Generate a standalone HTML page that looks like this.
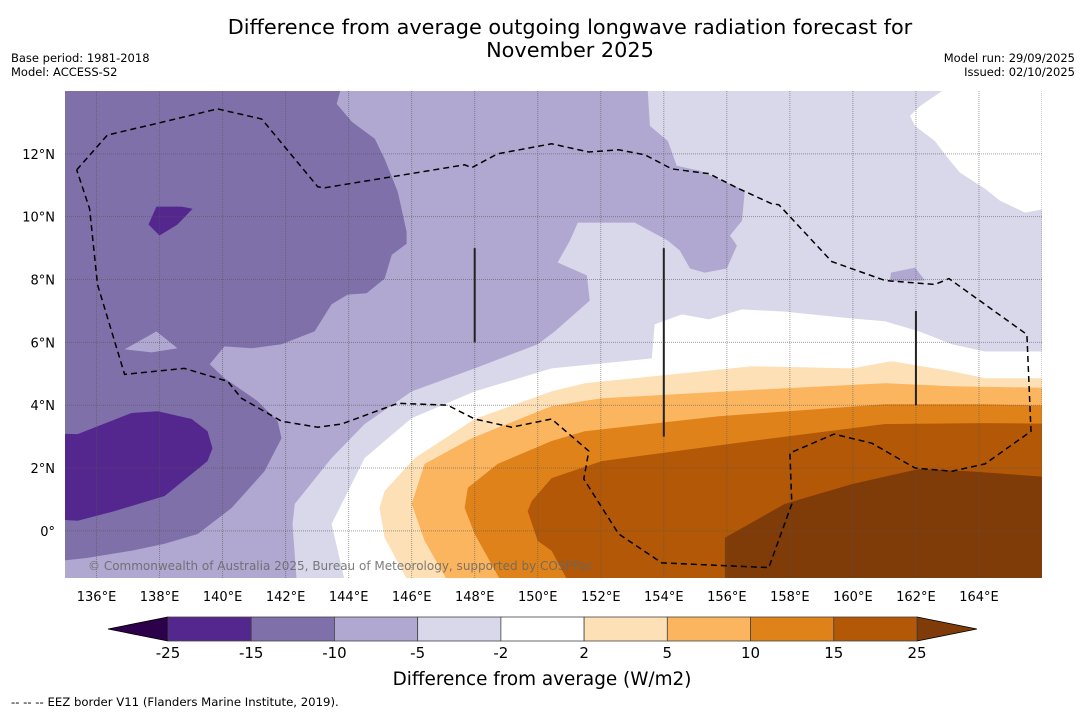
<!DOCTYPE html>
<html><head><meta charset="utf-8"><style>
body{margin:0;background:#fff;width:1085px;height:713px;overflow:hidden;font-family:"DejaVu Sans","Liberation Sans",sans-serif;}
svg text{font-family:"DejaVu Sans","Liberation Sans",sans-serif;}
</style></head><body>
<svg id="chart" width="1085" height="713" viewBox="0 0 1085 713" xmlns="http://www.w3.org/2000/svg">
<text x="570" y="34" font-size="20.8" text-anchor="middle">Difference from average outgoing longwave radiation forecast for</text>
<text x="570" y="57" font-size="20.8" text-anchor="middle">November 2025</text>
<text x="11" y="62" font-size="11.5">Base period: 1981-2018</text>
<text x="11" y="76" font-size="11.5">Model: ACCESS-S2</text>
<text x="1075" y="62" font-size="11.5" text-anchor="end">Model run: 29/09/2025</text>
<text x="1075" y="76" font-size="11.5" text-anchor="end">Issued: 02/10/2025</text>
<defs><clipPath id="mapclip"><rect x="65" y="91" width="977" height="487"/></clipPath></defs>
<g id="map" clip-path="url(#mapclip)"></g>
<g id="axes"></g>
<g id="cbar"></g>
<text x="542" y="685" font-size="18.4" text-anchor="middle">Difference from average (W/m2)</text>
<text x="11" y="706" font-size="11.7">--  --  -- EEZ border V11 (Flanders Marine Institute, 2019).</text>
</svg>
<script>
const lonRange=[135,166];
const latRange=[-1.5,14];
const lonTicks=[136,138,140,142,144,146,148,150,152,154,156,158,160,162,164];
const latTicks=[0,2,4,6,8,10,12];
const levels=[-25,-15,-10,-5,-2,2,5,10,15,25];
const levelColors=["#54278f","#7f70aa","#b0a8d0","#d8d8ea","#ffffff","#fee0b6","#fbb55f","#e0821a","#b35806"];
const underColor="#2d004b", overColor="#7f3b08";
const regMedium=[[134,14.5],[153.46,14.5],[153.56,12.89],[154.13,12.41],[154.41,11.62],[155.14,11.46],[156.57,10.83],[156.48,9.87],[156.1,9.4],[156.32,9.08],[156.0,8.35],[155.3,8.22],[154.83,8.35],[154.51,8.92],[154.13,9.24],[153.08,9.81],[151.27,9.81],[151.02,9.24],[150.63,8.54],[151.56,8.13],[151.65,7.33],[150.54,6.35],[150.0,5.94],[148,5.17],[146,4.44],[144.51,3.4],[143.46,2.32],[142.29,0.86],[142.22,0.22],[142.38,-2],[134,-2]];
const regWhiteNE=[[163.56,14.5],[167,14.5],[167,10.41],[165.46,10.13],[164.67,10.51],[164.19,10.89],[163.4,11.4],[163.08,11.78],[162.6,12.41],[161.97,12.89],[161.81,13.21],[162.13,13.52]];
const regMediumBlob=[[161.21,8.22],[161.97,8.38],[162.29,7.97],[161.17,7.94]];
const regWhite=[[167,5.71],[164.19,5.71],[163.14,5.94],[162.1,6.35],[161.02,6.67],[159.97,6.76],[157.84,6.98],[156.48,7.05],[155.43,6.73],[154.57,6.89],[153.71,6.57],[153.62,5.49],[150.44,5.17],[148,4.44],[146,3.59],[144.51,2.32],[143.46,0.22],[143.97,-2],[167,-2]];
const regC2=[[167,4.86],[164.19,4.86],[163.14,5.08],[161.24,5.4],[159.97,5.17],[156.79,5.24],[151.49,4.7],[150.44,4.44],[148,3.56],[146.1,2.32],[145.14,1.27],[144.98,0.73],[145.14,-0.22],[146.1,-2],[167,-2]];
const regC5=[[167,4.54],[163.14,4.6],[161.02,4.7],[157.84,4.54],[152.03,4.22],[150.44,3.97],[147.9,2.95],[146.41,2.13],[146,0.86],[146.41,-0.32],[147.37,-2],[167,-2]];
const regC10=[[167,3.97],[164.19,4.03],[161.02,4.03],[155.75,3.65],[151.49,3.17],[150.44,2.86],[148.73,2.13],[147.78,1.37],[147.68,0.73],[148,-0.1],[149.05,-2],[167,-2]];
const regC15=[[167,3.4],[164.19,3.43],[161.02,3.4],[156.79,2.86],[152.03,2.22],[150.44,1.68],[149.81,0.95],[149.68,0.63],[150.0,-0.32],[150.44,-0.63],[151.17,-2],[167,-2]];
const regC25=[[155.94,-2],[155.94,-0.22],[157.84,0.86],[159.97,1.49],[162.1,1.97],[163.68,1.9],[167,1.65],[167,-2]];
const regDark=[[134,14.5],[143.87,14.5],[143.62,13.59],[144.1,13.02],[144.83,12.48],[145.14,11.84],[145.56,10.79],[145.84,9.52],[145.84,9.14],[145.37,8.79],[145.14,8.03],[144.57,7.56],[143.97,7.52],[143.46,7.21],[142.92,6.35],[141.87,5.94],[140.92,5.81],[140.06,5.87],[139.59,5.3],[140.06,4.86],[141.11,4.13],[141.75,3.49],[141.87,2.95],[141.33,1.9],[140.29,0.73],[139.21,-0.1],[138.16,-0.41],[137.11,-0.63],[135.71,-0.86],[134,-1.05]];
const regDarkHole=[[136.89,5.78],[137.9,6.35],[138.57,5.81],[137.75,5.68]];
const regDeepSmall=[[137.9,10.32],[138.7,10.32],[139.05,10.25],[138.57,9.75],[138.0,9.4],[137.65,9.75]];
const regDeepLarge=[[134,3.11],[135.4,3.08],[137.11,3.75],[137.94,3.81],[139.02,3.56],[139.52,3.17],[139.68,2.63],[139.52,2.22],[138.16,1.11],[136.57,0.63],[135.4,0.32],[134,0.41]];
const eezLine=[[135.37,11.49],[136.35,12.6],[137.84,12.95],[139.84,13.43],[141.24,13.11],[143.02,10.95],[143.24,10.92],[147.68,11.65],[147.9,11.56],[148.73,12.0],[150.44,12.32],[151.62,12.06],[152.57,12.13],[153.4,11.97],[154.25,11.52],[155.43,11.37],[156.38,10.89],[157.43,10.41],[157.65,10.38],[159.33,8.57],[161.02,7.97],[162.6,7.84],[163.05,8.03],[165.52,6.25],[165.65,3.17],[164.19,2.13],[163.14,1.9],[161.97,2.0],[160.6,2.79],[159.4,3.08],[158.0,2.48],[158.06,0.86],[157.33,-1.17],[153.94,-1.02],[152.57,-0.1],[151.46,1.65],[151.62,2.54],[150.44,3.56],[149.17,3.3],[148,3.56],[147.14,4.0],[145.56,4.06],[143.78,3.4],[143.02,3.3],[141.87,3.49],[140.6,4.22],[140.16,4.76],[138.79,5.17],[136.89,4.98],[136.03,7.84],[135.78,10.25],[135.37,11.49]];
const markerLines=[[148,9,6],[154,9,3],[162,7,4]];

const X0=65,X1=1042,Y0=91,Y1=578;
const xs=lon=>X0+(lon-lonRange[0])/(lonRange[1]-lonRange[0])*(X1-X0);
const ys=lat=>Y1-(lat-latRange[0])/(latRange[1]-latRange[0])*(Y1-Y0);
const NS="http://www.w3.org/2000/svg";
function mk(tag,attrs,parent){const e=document.createElementNS(NS,tag);for(const k in attrs)e.setAttribute(k,attrs[k]);parent.appendChild(e);return e;}
const map=document.getElementById('map');
const pts=poly=>poly.map(p=>xs(p[0]).toFixed(1)+','+ys(p[1]).toFixed(1)).join(' ');
let bg=mk('rect',{x:X0,y:Y0,width:X1-X0,height:Y1-Y0,fill:levelColors[3]},map);


const layers=[[regMedium,levelColors[2],'contour-minus10-to-minus5'],[regWhiteNE,levelColors[4],'contour-near-normal-ne'],[regMediumBlob,levelColors[2],'contour-minus10-blob'],[regWhite,levelColors[4],'contour-near-normal'],[regC2,levelColors[5],'contour-2-to-5'],[regC5,levelColors[6],'contour-5-to-10'],[regC10,levelColors[7],'contour-10-to-15'],[regC15,levelColors[8],'contour-15-to-25'],[regC25,overColor,'contour-above-25'],[regDark,levelColors[1],'contour-minus15-to-minus10'],[regDarkHole,levelColors[2],'contour-minus10-hole'],[regDeepSmall,levelColors[0],'contour-minus25-small'],[regDeepLarge,levelColors[0],'contour-minus25-large']];
layers.forEach(l=>{const p=mk('polygon',{points:pts(l[0]),fill:l[1]},map);

});
lonTicks.concat([166]).forEach(t=>{const g=mk('line',{x1:xs(t),x2:xs(t),y1:Y0,y2:Y1,stroke:'#555','stroke-width':1,'stroke-dasharray':'1,1',opacity:0.55},map);

});
latTicks.forEach(t=>{const g=mk('line',{x1:X0,x2:X1,y1:ys(t),y2:ys(t),stroke:'#555','stroke-width':1,'stroke-dasharray':'1,1',opacity:0.55},map);

});
const eez=mk('polyline',{points:pts(eezLine),fill:'none',stroke:'#000','stroke-width':1.5,'stroke-dasharray':'6,4'},map);


markerLines.forEach(m=>{const l=mk('line',{x1:xs(m[0]),x2:xs(m[0]),y1:ys(m[1]),y2:ys(m[2]),stroke:'#222','stroke-width':2},map);

});
const cp=mk('text',{x:88,y:570,'font-size':12,fill:'#666','fill-opacity':0.85},map);
cp.textContent='© Commonwealth of Australia 2025, Bureau of Meteorology, supported by COSPPac';


const axes=document.getElementById('axes');
lonTicks.forEach(t=>{const e=mk('text',{x:xs(t),y:601,'font-size':13,'text-anchor':'middle'},axes);e.textContent=t+'°E';

});
latTicks.forEach(t=>{const e=mk('text',{x:55,y:ys(t)+5,'font-size':13,'text-anchor':'end'},axes);e.textContent=(t===0?'0°':t+'°N');

});
const cb=document.getElementById('cbar');
const CB0=168,CB1=917,CBt=617,CBb=641,segW=(CB1-CB0)/(levels.length-1);
const u=mk('polygon',{points:`108,${(CBt+CBb)/2} ${CB0},${CBt} ${CB0},${CBb}`,fill:underColor,stroke:'#000','stroke-width':0.8},cb);


const o=mk('polygon',{points:`977,${(CBt+CBb)/2} ${CB1},${CBt} ${CB1},${CBb}`,fill:overColor,stroke:'#000','stroke-width':0.8},cb);


levelColors.forEach((c,i)=>{const r=mk('rect',{x:CB0+i*segW,y:CBt,width:segW,height:CBb-CBt,fill:c,stroke:'#444','stroke-width':0.8},cb);

});
levels.forEach((v,i)=>{const t=mk('text',{x:CB0+i*segW,y:658,'font-size':15,'text-anchor':'middle'},cb);t.textContent=v;

});
</script>
</body></html>
